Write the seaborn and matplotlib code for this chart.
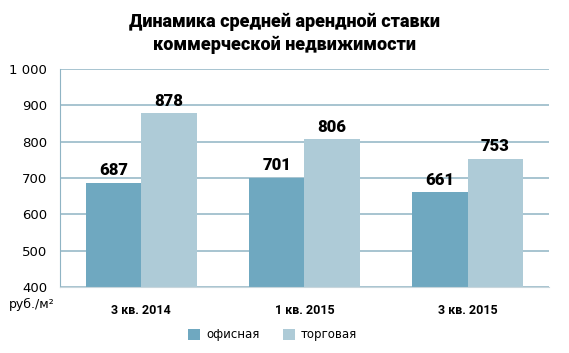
import numpy as np
import pandas as pd
import matplotlib
matplotlib.use("Agg")
import matplotlib.pyplot as plt
import seaborn as sns

# данные
periods = ["3 кв. 2014", "1 кв. 2015", "3 кв. 2015"]
office = [687, 701, 661]
retail = [878, 806, 753]
series_names = ["офисная", "торговая"]
yticks = [400, 500, 600, 700, 800, 900, 1000]
ytick_labels = ["400", "500", "600", "700", "800", "900", "1 000"]

df = pd.DataFrame({
    "period": periods * 2,
    "value": office + retail,
    "type": [series_names[0]] * 3 + [series_names[1]] * 3,
})

sns.set_style("white")
plt.rcParams["font.family"] = ["DejaVu Sans"]
plt.rcParams["text.color"] = "black"
plt.rcParams["xtick.color"] = "black"
plt.rcParams["ytick.color"] = "black"

grid_col = "#8fb4c4"
colors = ["#6fa8c0", "#aecbd7"]
bold_font = ["Roboto", "DejaVu Sans"]

fig = plt.figure(figsize=(5.69, 3.53), dpi=100)
ax = fig.add_axes([0.105, 0.187, 0.86, 0.618])

sns.barplot(data=df, x="period", y="value", hue="type", palette=colors,
            width=0.68, gap=0, saturation=1, linewidth=0, ax=ax, zorder=2)

ax.set_ylim(400, 1000)
ax.set_xlim(-0.5, 2.5)
ax.set_yticks(yticks)
ax.set_yticklabels(ytick_labels, fontsize=9.5)
ax.yaxis.grid(True, color=grid_col, linewidth=1.1, zorder=0)
ax.set_axisbelow(True)

for s in ["top", "right"]:
    ax.spines[s].set_visible(False)
ax.spines["left"].set_color(grid_col)
ax.spines["bottom"].set_color("#c8d6dc")
ax.tick_params(axis="y", length=5, color=grid_col, pad=4)
ax.tick_params(axis="x", length=0, pad=12)
ax.set_xticks([0, 1, 2])
ax.set_xticklabels(periods, fontsize=9, fontweight="bold", family=bold_font)
# разделители категорий
ax.set_xticks([0.5, 1.5, 2.5], minor=True)
ax.tick_params(axis="x", which="minor", length=4, color="#c8d6dc")
ax.set_xlabel("")
ax.set_ylabel("")

for cont in ax.containers:
    ax.bar_label(cont, fmt="%d", padding=3, fontsize=12, fontweight="heavy",
                 family=bold_font)

ax.legend(loc="center", bbox_to_anchor=(0.435, -0.22), ncol=2,
          frameon=False, fontsize=8.5, handlelength=1.0, handleheight=1.0,
          columnspacing=2.0, handletextpad=0.5)

fig.text(0.015, 0.128, "руб./м²", fontsize=9)
fig.suptitle("Динамика средней арендной ставки\nкоммерческой недвижимости",
             x=0.5, y=0.965, fontsize=13, fontweight="heavy", linespacing=1.4,
             family=bold_font)

fig.savefig("out.png", dpi=100)
